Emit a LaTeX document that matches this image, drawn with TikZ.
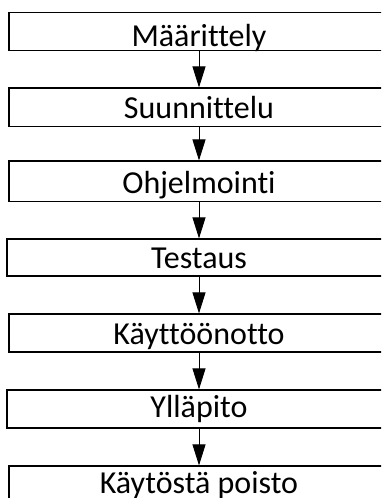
\documentclass[tikz,border=0pt]{standalone}
\usepackage{fontspec}
\setmainfont{Carlito}[Ligatures=NoCommon]
\usetikzlibrary{arrows.meta}
\tikzset{
  stagebox/.style={draw=black, line width=1.2pt, fill=white, inner sep=0pt, minimum width=380pt},
  stagelabel/.style={anchor=base, inner sep=0pt, font=\fontsize{32}{38}\selectfont},
  flowarrow/.style={line width=0.9pt, -{Triangle[length=21pt,width=13pt]}}
}
\begin{document}
\begin{tikzpicture}[x=1pt, y=-1pt]
\useasboundingbox (0,0) rectangle (381,498);
\clip (0,0) rectangle (381,498);
% boxes
\node[stagebox, minimum height=38pt] (b1) at (199,31.5) {};
\node[stagebox, minimum height=38.5pt] (b2) at (199,107.3) {};
\node[stagebox, minimum height=40.5pt] (b3) at (199,181.3) {};
\node[stagebox, minimum height=37pt, minimum width=382pt] (b4) at (198,257.5) {};
\node[stagebox, minimum height=38pt] (b5) at (199,333) {};
\node[stagebox, minimum height=38pt, minimum width=382pt] (b6) at (198,409) {};
\node[stagebox, minimum height=38pt] (b7) at (199,485) {};
% labels
\node[stagelabel] (t1) at (199,46.7) {Määrittely};
\node[stagelabel] (t2) at (199,118) {Suunnittelu};
\node[stagelabel] (t3) at (199,193) {Ohjelmointi};
\node[stagelabel] (t4) at (199,268) {Testaus};
\node[stagelabel] (t5) at (199,344) {Käyttöönotto};
\node[stagelabel] (t6) at (199,417) {Ylläpito};
\node[stagelabel] (t7) at (199,493) {Käytöstä poisto};
% arrows
\draw[flowarrow] (b1.south) -- (b2.north);
\draw[flowarrow] (b2.south) -- (b3.north);
\draw[flowarrow] (b3.south) -- (b4.north -| b3.south);
\draw[flowarrow] (b4.south -| b3.south) -- (b5.north);
\draw[flowarrow] (b5.south) -- (b6.north -| b5.south);
\draw[flowarrow] (b6.south -| b5.south) -- (b7.north);
\end{tikzpicture}
\end{document}
